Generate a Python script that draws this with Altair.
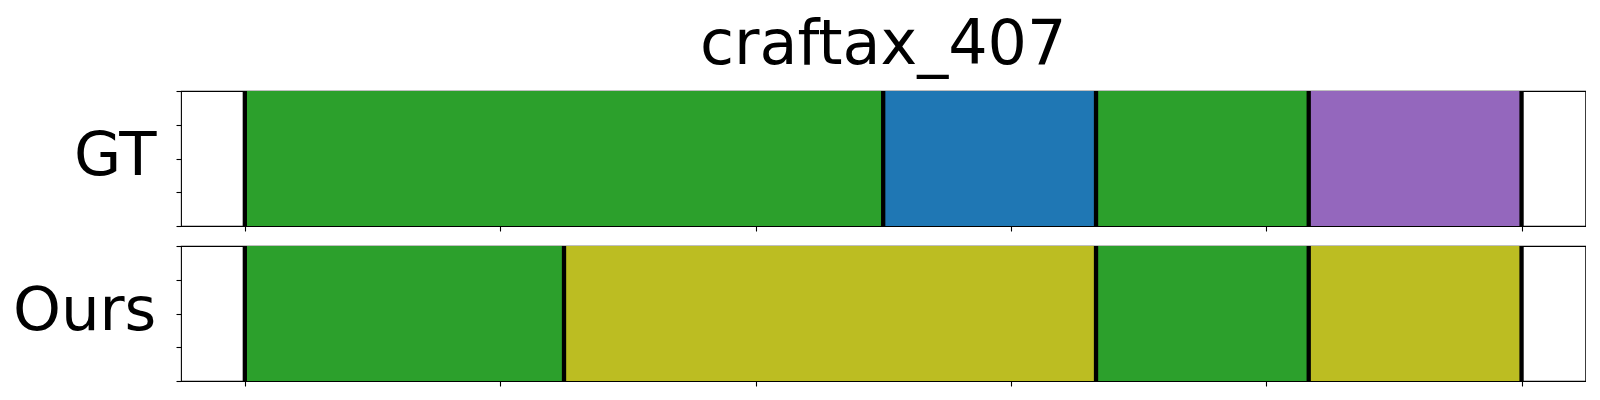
import altair as alt
import pandas as pd

title_text = "craftax_407"
row_names = ["GT", "Ours"]

# segment boundaries (normalized time) and class ids for each row
gt_starts = [0.0, 0.5, 0.6667, 0.8333]
gt_ends = [0.5, 0.6667, 0.8333, 1.0]
gt_classes = ["c2", "c0", "c2", "c4"]

ours_starts = [0.0, 0.25, 0.6667, 0.8333]
ours_ends = [0.25, 0.6667, 0.8333, 1.0]
ours_classes = ["c2", "c8", "c2", "c8"]

class_domain = ["c0", "c2", "c4", "c8"]
class_colors = ["#1f77b4", "#2ca02c", "#9467bd", "#bcbd22"]

x_ticks = [0.0, 0.2, 0.4, 0.6, 0.8, 1.0]
y_ticks = [0.0, 0.25, 0.5, 0.75, 1.0]

W = 1404.4
H = 135


def panel(name, starts, ends, classes, title=None):
    seg = pd.DataFrame({"start": starts, "end": ends, "cls": classes,
                        "y0": [0.0] * len(starts), "y1": [1.0] * len(starts)})
    bnd = pd.DataFrame({"b": sorted(set(starts) | set(ends))})
    lab = pd.DataFrame({"name": [name]})
    xs = alt.Scale(domain=[-0.05, 1.05], nice=False, zero=False)
    xaxis = alt.Axis(values=x_ticks, labels=False, tickSize=5, tickColor="black",
                     tickWidth=1.1, domain=False, grid=False, title=None)
    yaxis = alt.Axis(values=y_ticks, labels=False, tickSize=5, tickColor="black", tickWidth=1.1,
                     domain=False, grid=False, title=None)
    rects = alt.Chart(seg).mark_rect().encode(
        x=alt.X("start:Q", scale=xs, axis=xaxis),
        x2="end:Q",
        y=alt.Y("y0:Q", scale=alt.Scale(domain=[0, 1], nice=False), axis=yaxis),
        y2="y1:Q",
        color=alt.Color("cls:N", scale=alt.Scale(domain=class_domain, range=class_colors), legend=None),
    )
    rules = alt.Chart(bnd).mark_rule(color="black", strokeWidth=4.3).encode(
        x=alt.X("b:Q", scale=xs)
    )
    label = alt.Chart(lab).mark_text(
        align="right", baseline="alphabetic", fontSize=61, font="DejaVu Sans", color="black"
    ).encode(text="name:N", x=alt.value(-24.6), y=alt.value(84.3))
    layers = [rects, rules, label]
    if title is not None:
        tdf = pd.DataFrame({"t": [title]})
        layers.append(
            alt.Chart(tdf).mark_text(
                align="center", baseline="alphabetic", fontSize=62, font="DejaVu Sans", color="black"
            ).encode(text="t:N", x=alt.value(W / 2), y=alt.value(-27))
        )
    return alt.layer(*layers).properties(width=W, height=H)


top = panel(row_names[0], gt_starts, gt_ends, gt_classes, title=title_text)
bottom = panel(row_names[1], ours_starts, ours_ends, ours_classes)

chart = alt.vconcat(top, bottom, spacing=20, bounds="flush").properties(
    padding={"left": 4, "top": 5, "right": 0, "bottom": 0},
).configure(background="white").configure_view(stroke="black", strokeWidth=1.1)

chart.save("out.html", embed_options={"renderer": "svg", "actions": False})
